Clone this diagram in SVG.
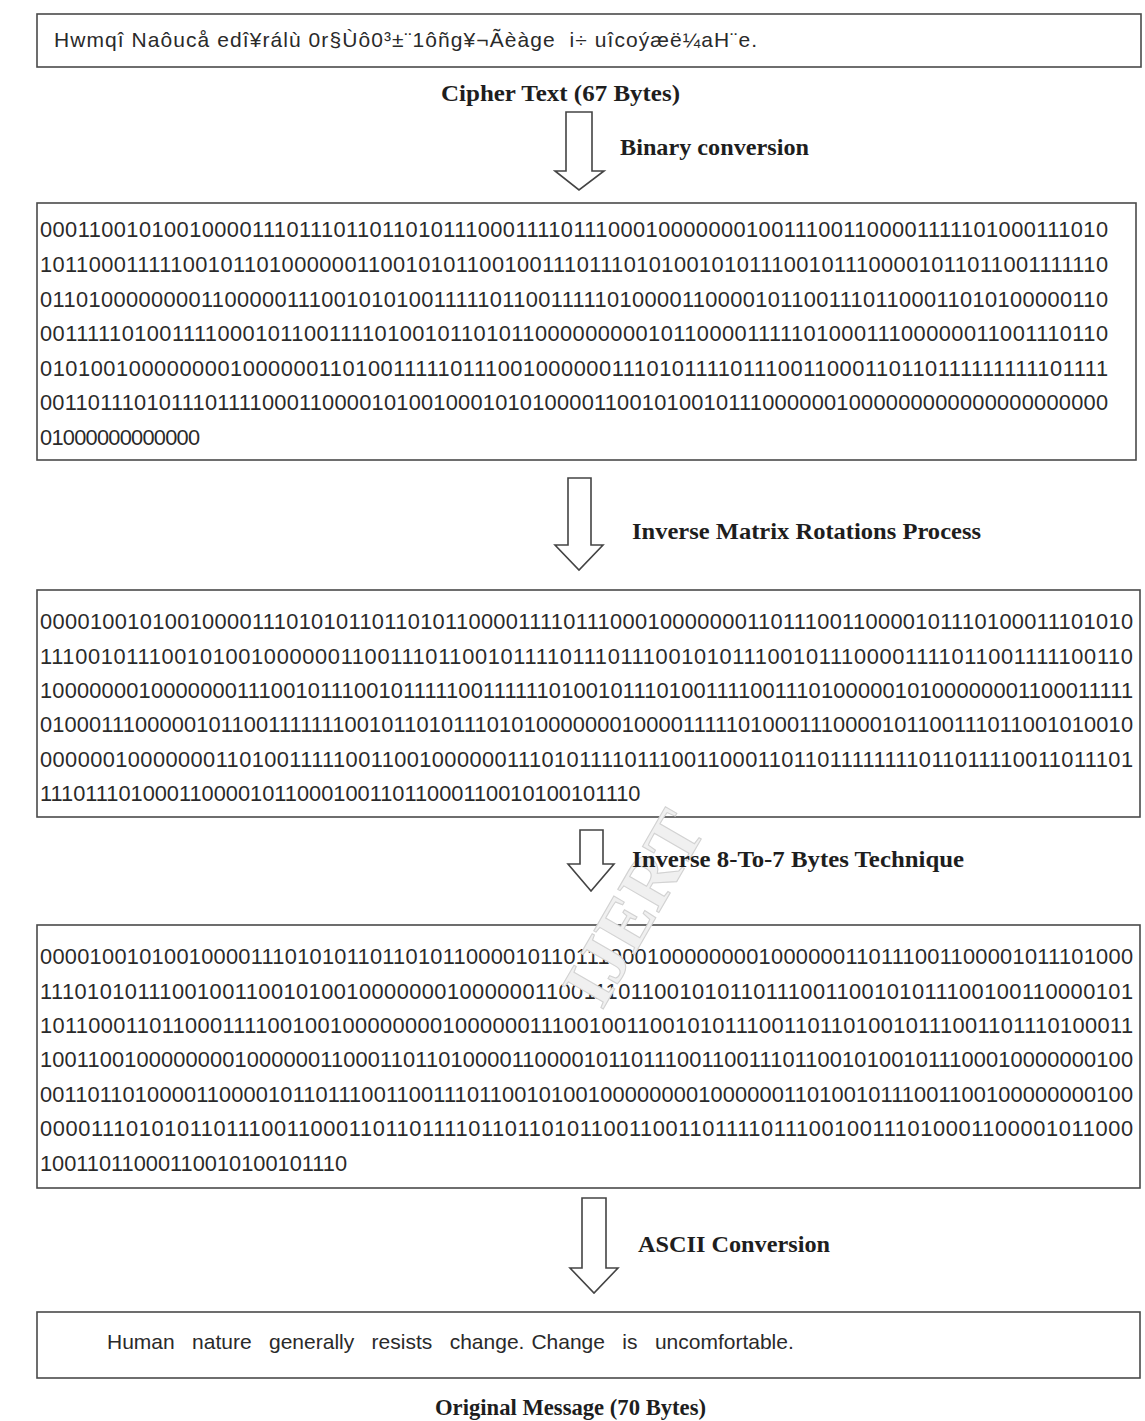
<svg xmlns="http://www.w3.org/2000/svg" width="1145" height="1421" viewBox="0 0 1145 1421">
<style>
.box{fill:#fff;stroke:#4a4a4a;stroke-width:1.6}
.bin{font-family:"Liberation Sans",Arial,sans-serif;font-size:21.8px;fill:#2a2a2a}
.txt{font-family:"Liberation Sans",Arial,sans-serif;font-size:21px;fill:#2a2a2a;white-space:pre}
.lbl{font-family:"Liberation Serif","Times New Roman",serif;font-weight:bold;font-size:23px;fill:#1e1e1e}
.arrow{fill:#fff;stroke:#444;stroke-width:1.6;stroke-linejoin:miter}
.wm{font-family:"Liberation Serif","Times New Roman",serif;font-weight:bold;font-size:72px;fill:#f0f0f0;stroke:#d2d2d2;stroke-width:1.1}
</style>
<rect width="1145" height="1421" fill="#fff"/>

<g id="cipher-text">
<rect class="box" x="37" y="14" width="1104" height="53"/>
<text class="txt" x="54" y="47" textLength="703" lengthAdjust="spacing">Hwmqî Naôucå edî¥rálù 0r§Ùô0³±¨1ôñg¥¬Ãèàge  i÷ uîcoýæë¼aH¨e.</text>
<text class="lbl" x="441" y="101" textLength="239" lengthAdjust="spacingAndGlyphs">Cipher Text (67 Bytes)</text>
</g>

<g id="binary-1">
<rect class="box" x="37" y="203" width="1099" height="257"/>
<text class="bin" x="40" y="237" textLength="1068" lengthAdjust="spacing">0001100101001000011101110110110101110001111011100010000000100111001100001111101000111010</text>
<text class="bin" x="40" y="272" textLength="1068" lengthAdjust="spacing">1011000111110010110100000011001010110010011101110101001010111001011100001011011001111110</text>
<text class="bin" x="40" y="307" textLength="1068" lengthAdjust="spacing">0110100000000110000011100101010011111011001111101000011000010110011101100011010100000110</text>
<text class="bin" x="40" y="341" textLength="1068" lengthAdjust="spacing">0011111010011110001011001111010010110101100000000010110000111110100011100000011001110110</text>
<text class="bin" x="40" y="376" textLength="1068" lengthAdjust="spacing">0101001000000001000000110100111110111001000000111010111101110011000110110111111111101111</text>
<text class="bin" x="40" y="410" textLength="1068" lengthAdjust="spacing">0011011101011101111000110000101001000101010000110010100101110000001000000000000000000000</text>
<text class="bin" x="40" y="445" textLength="160" lengthAdjust="spacing">01000000000000</text>
</g>

<g id="binary-2">
<rect class="box" x="37" y="590" width="1103" height="227"/>
<text class="bin" x="40" y="629" textLength="1093" lengthAdjust="spacing">000010010100100001110101011011010110000111101110001000000011011100110000101110100011101010</text>
<text class="bin" x="40" y="664" textLength="1093" lengthAdjust="spacing">11100101110010100100000011001110110010111101110111001010111001011100001111011001111100110</text>
<text class="bin" x="40" y="698" textLength="1093" lengthAdjust="spacing">10000000100000001110010111001011111001111110100101110100111100111010000010100000001100011111</text>
<text class="bin" x="40" y="732" textLength="1093" lengthAdjust="spacing">01000111000001011001111111001011010111010100000001000011111010001110000101100111011001010010</text>
<text class="bin" x="40" y="767" textLength="1093" lengthAdjust="spacing">0000001000000011010011111001100100000011101011110111001100011011011111111011011110011011101</text>
<text class="bin" x="40" y="801">111011101000110000101100010011011000110010100101110</text>
</g>

<g id="binary-3">
<rect class="box" x="37" y="925" width="1103" height="263"/>
<text class="bin" x="40" y="964" textLength="1093" lengthAdjust="spacing">000010010100100001110101011011010110000101101110001000000001000000110111001100001011101000</text>
<text class="bin" x="40" y="999" textLength="1093" lengthAdjust="spacing">11101010111001001100101001000000010000001100111011001010110111001100101011100100110000101</text>
<text class="bin" x="40" y="1033" textLength="1093" lengthAdjust="spacing">101100011011000111100100100000000100000011100100110010101110011011010010111001101110100011</text>
<text class="bin" x="40" y="1067" textLength="1093" lengthAdjust="spacing">1001100100000000100000011000110110100001100001011011100110011101100101001011100010000000100</text>
<text class="bin" x="40" y="1102" textLength="1093" lengthAdjust="spacing">0011011010000110000101101110011001110110010100100000000100000011010010111001100100000000100</text>
<text class="bin" x="40" y="1136" textLength="1093" lengthAdjust="spacing">00001110101011011100110001101101111011011010110011001101111011100100111010001100001011000</text>
<text class="bin" x="40" y="1171">10011011000110010100101110</text>
</g>

<g id="original-message">
<rect class="box" x="37" y="1312" width="1103" height="66"/>
<text class="txt" y="1349"><tspan x="107">Human</tspan><tspan x="192.1">nature</tspan><tspan x="269">generally</tspan><tspan x="371.6">resists</tspan><tspan x="449.7">change.</tspan><tspan x="531.4">Change</tspan><tspan x="622.3">is</tspan><tspan x="654.9">uncomfortable.</tspan></text>
<text class="lbl" x="435" y="1415" textLength="271" lengthAdjust="spacingAndGlyphs">Original Message (70 Bytes)</text>
</g>

<g id="watermark">
<text class="wm" x="0" y="0" transform="translate(640,912) rotate(-60)" text-anchor="middle" dominant-baseline="middle">IJERT</text>
</g>

<g id="connectors">
<path class="arrow" d="M566,112 H592 V171 H604 L579,190 L555,171 H566 Z"/>
<text class="lbl" x="620" y="155" textLength="189" lengthAdjust="spacingAndGlyphs">Binary conversion</text>
<path class="arrow" d="M568,478 H591 V545 H603 L579,570 L555,545 H568 Z"/>
<text class="lbl" x="632" y="539" textLength="349" lengthAdjust="spacingAndGlyphs">Inverse Matrix Rotations Process</text>
<path class="arrow" d="M580,830 H603 V864 H614 L591,891 L568,864 H580 Z"/>
<text class="lbl" x="632" y="867" textLength="332" lengthAdjust="spacingAndGlyphs">Inverse 8-To-7 Bytes Technique</text>
<path class="arrow" d="M582,1198 H606 V1268 H618 L594,1293 L570,1268 H582 Z"/>
<text class="lbl" x="638" y="1252" textLength="192" lengthAdjust="spacingAndGlyphs">ASCII Conversion</text>
</g>
</svg>
